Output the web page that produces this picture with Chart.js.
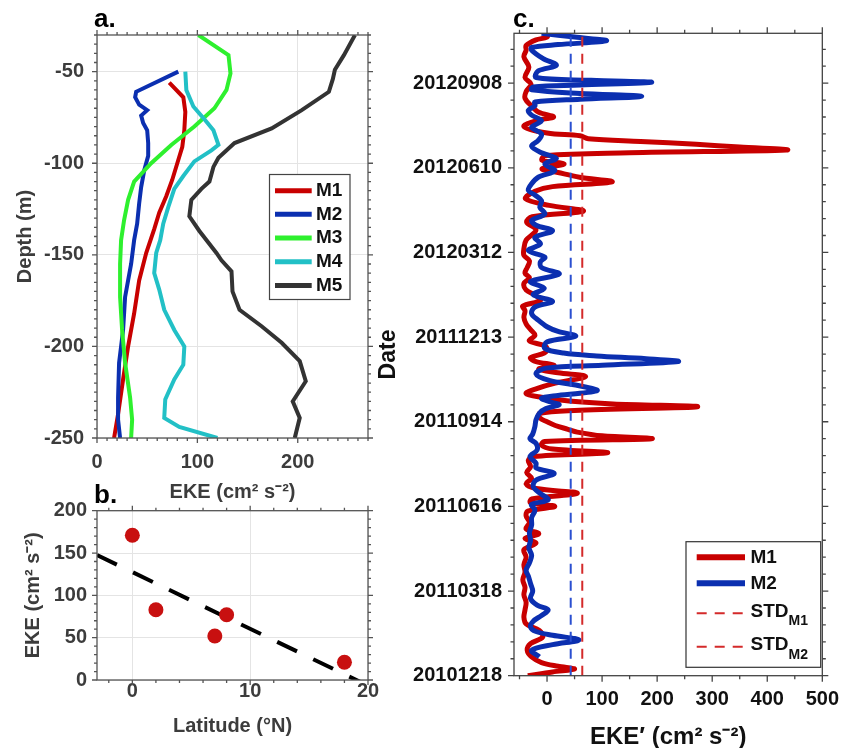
<!DOCTYPE html>
<html><head><meta charset="utf-8">
<script src="https://cdn.jsdelivr.net/npm/chart.js@4.4.0/dist/chart.umd.min.js"></script>
<style>
html,body{margin:0;padding:0;background:#fff;overflow:hidden;width:851px;height:748px;}
canvas{position:absolute;}
#ca{left:0;top:0;} #cb{left:0;top:480px;} #cc{left:370px;top:0;}
</style></head><body>
<canvas id="ca" width="380" height="510"></canvas>
<canvas id="cb" width="380" height="268"></canvas>
<canvas id="cc" width="481" height="760"></canvas>
<script>
// ---------- Panel a: EKE profiles (depth in m, EKE in cm^2 s^-2) ----------
const depthM1 = [-56,-64,-72,-82,-91,-100,-109,-118,-127,-136,-149,-164,-182,-200,-218,-237,-250];
const ekeM1   = [72,86,88,87,85,80,75,69,62,57,49,42,37,31,26,21,17];
const depthM2 = [-50,-61,-64,-68,-71,-74,-78,-82,-89,-96,-104,-113,-122,-133,-142,-155,-164,-173,-191,-209,-228,-240,-250];
const ekeM2   = [81,39,38,42,50,44,46,50,51,51,47,44,42,40,37,34,31,28,26,22,21,21,23];
const depthM3 = [-30,-41,-51,-60,-70,-80,-90,-100,-110,-120,-131,-142,-155,-173,-191,-209,-228,-240,-250];
const ekeM3   = [101,131,133,129,117,97,74,54,37,31,27,24,23,23,25,28,33,35,34];
const depthM4 = [-50,-60,-69,-76,-82,-90,-93,-99,-107,-114,-124,-133,-142,-149,-160,-169,-180,-191,-200,-210,-218,-229,-239,-244,-250];
const ekeM4   = [88,89,96,107,116,121,114,97,86,77,71,66,63,59,57,62,67,77,87,86,77,68,67,82,120];
const depthM5 = [-30,-41,-49,-54,-61,-71,-81,-89,-97,-102,-110,-114,-120,-129,-137,-149,-153,-159,-170,-180,-189,-198,-208,-219,-230,-239,-250];
const ekeM5   = [257,246,237,235,231,204,174,137,121,116,112,104,94,92,102,119,124,134,135,142,164,184,202,208,195,202,197];
const mooringNames = ['M1','M2','M3','M4','M5'];
const xTicksA = [0,100,200];
const yTicksA = [-250,-200,-150,-100,-50];

// ---------- Panel b: mean EKE vs latitude ----------
const latitude = [0,2,7,8,18];
const meanEke  = [171,83,52,77,21];
const fitLat   = [-3,19.5];
const fitEke   = [147.6,-3.3];
const xTicksB = [0,10,20];
const yTicksB = [0,50,100,150,200];

// ---------- Panel c: EKE' time series (day index since 20101218) ----------
const dayM1 = [0,4,7,10,14,20,27,34,41,48,55,62,70,78,86,94,102,110,118,126,134,141,146,151,156,163,170,175,180,184,188,194,199,204,210,216,222,229,233,237,241,245,249,252,255,259,262,266,270,274,279,282,286,289,292,296,300,305,311,318,322,326,330,334,338,343,347,351,356,362,368,374,381,388,393,399,404,410,417,423,428,434,441,447,454,463,474,482,488,494,500,507,515,520,525,530,535,539,544,548,553,556,559,562,565,568,571,574,577,584,591,594,599,605,614,621,629,636,647,658,665,670,676,679,683];
const ekeC1 = [-35,10,50,20,-10,-28,-36,-30,-8,-14,-38,-42,-40,-38,-42,-40,-44,-40,-42,-38,-42,-20,-40,-15,-38,-32,-38,-35,14,-30,-28,55,-20,-38,-28,-37,-30,-34,-25,110,10,-10,-5,190,100,55,38,15,0,-13,-13,50,273,120,40,-10,-38,-20,15,70,20,-15,13,-20,-30,-5,0,-5,-32,-22,-30,-38,-42,-40,-44,-12,-20,-38,-42,-32,-40,-36,-32,-42,-42,-38,-20,-37,-27,66,4,-39,-22,10,118,59,20,-9,31,-9,-3,150,435,350,271,170,75,60,0,-42,-14,12,-15,-27,-40,-38,-29,-40,-33,-42,-38,-38,-20,0,2];
const dayM2 = [20,27,33,38,43,47,52,58,64,70,75,82,90,98,106,112,120,128,136,144,152,160,168,176,182,187,194,201,208,215,221,226,233,240,247,252,257,265,272,279,284,288,291,295,298,303,309,314,321,327,330,334,337,340,343,348,355,361,366,371,378,385,392,398,405,412,419,427,434,440,445,452,459,466,473,479,484,491,498,505,511,516,523,530,537,544,550,556,563,569,576,583,590,596,601,606,610,613,616,619,623,626,628,631,633,636,643,649,656,665,668,671,675,679,683];
const ekeC2 = [-14,-28,10,58,10,-20,-30,-25,-10,2,-18,-30,-26,-30,-34,-38,-32,-28,-33,-30,-32,-28,-28,-22,-28,2,-13,-25,-20,13,-20,-20,-31,-18,-20,-31,-26,-22,-20,-14,-2,22,7,-10,20,91,52,4,-20,-2,100,238,180,90,30,-4,0,52,20,0,-16,-28,-22,10,-25,-5,-30,22,-10,-12,-4,-34,-12,-22,10,-20,-28,-4,-13,-10,-22,-34,-28,-16,14,-4,17,-10,-28,-16,-10,-28,-10,-28,-34,-22,-22,60,172,60,-28,-25,60,190,80,-20,-16,17,-7,-28,-28,20,108,50,-10];
const stdM1 = 64;
const stdM2 = 43;
const daySpan = [0,683];
const dateTickDays = [0,90,180,270,360,450,540,630];
const dateTickLabels = ['20101218','20110318','20110616','20110914','20111213','20120312','20120610','20120908'];
const xTicksC = [0,100,200,300,400,500];

// ---------- styling ----------
const FONT = "'Liberation Sans', Arial, Helvetica, sans-serif";
const GRAY = '#3c3c3c';
const COL = {M1:'#c80000', M2:'#0b2fb0', M3:'#2ef02e', M4:'#22c0c6', M5:'#333333'};
Chart.defaults.font.family = FONT;

const pts = (xs, ys) => xs.map((v,i) => ({x:v, y:ys[i]}));
const bold = (s) => ({family: FONT, size: s, weight: 'bold'});

const boxTicks = {
  id: 'boxTicks',
  afterDraw(chart, args, o) {
    const {ctx, chartArea: a} = chart;
    const xs = chart.scales.x, ys = chart.scales.y;
    const steps = (s) => { const out = []; for (let i = 0; ; i++) { const v = s.from + i * s.step; if (v > s.to + 1e-9) break; out.push(v); } return out; };
    const isMajor = (v, m) => m.some(t => Math.abs(t - v) < 1e-6);
    ctx.save();
    ctx.strokeStyle = o.color; ctx.lineWidth = o.lineWidth;
    ctx.beginPath();
    steps(o.xMinor).forEach(v => {
      const p = xs.getPixelForValue(v);
      const len = isMajor(v, o.xMajor) ? o.major : o.minor;
      ctx.moveTo(p, a.bottom); ctx.lineTo(p, a.bottom + len);
      ctx.moveTo(p, a.top); ctx.lineTo(p, a.top - len);
    });
    steps(o.yMinor).forEach(v => {
      const p = ys.getPixelForValue(v);
      const len = isMajor(v, o.yMajor) ? o.major : o.minor;
      ctx.moveTo(a.left, p); ctx.lineTo(a.left - len, p);
      ctx.moveTo(a.right, p); ctx.lineTo(a.right + len, p);
    });
    ctx.stroke();
    ctx.strokeRect(a.left, a.top, a.right - a.left, a.bottom - a.top);
    ctx.restore();
  }
};

const panelLegend = {
  id: 'panelLegend',
  afterDraw(chart, args, o) {
    if (!o.box) return;
    const ctx = chart.ctx;
    ctx.save();
    ctx.fillStyle = '#ffffff';
    ctx.fillRect(o.box.x, o.box.y, o.box.w, o.box.h);
    ctx.strokeStyle = o.borderColor; ctx.lineWidth = 1.2;
    ctx.strokeRect(o.box.x, o.box.y, o.box.w, o.box.h);
    chart.data.datasets.forEach(ds => {
      if (ds.legendRow === undefined) return;
      const y = o.rowY[ds.legendRow];
      ctx.beginPath();
      ctx.strokeStyle = ds.legendColor || ds.borderColor;
      ctx.lineWidth = ds.legendWidth || ds.borderWidth;
      ctx.setLineDash(ds.legendDash || []);
      ctx.moveTo(o.x0, y); ctx.lineTo(o.x1, y); ctx.stroke();
      ctx.setLineDash([]);
      ctx.fillStyle = o.textColor; ctx.font = o.font;
      ctx.textBaseline = 'middle'; ctx.textAlign = 'left';
      const ty = y + (ds.labelSub ? o.mainDy : 0);
      ctx.fillText(ds.label, o.tx, ty);
      if (ds.labelSub) {
        const w = ctx.measureText(ds.label).width;
        ctx.font = o.subFont;
        ctx.fillText(ds.labelSub, o.tx + w, ty + o.subDy);
      }
    });
    ctx.restore();
  }
};

const panelLabel = {
  id: 'panelLabel',
  afterDraw(chart, args, o) {
    const ctx = chart.ctx;
    ctx.save();
    ctx.fillStyle = '#000'; ctx.font = `bold ${o.size}px ${FONT}`;
    ctx.textBaseline = 'alphabetic'; ctx.textAlign = 'left';
    ctx.fillText(o.text, o.x, o.y);
    ctx.restore();
  }
};

const fixedTicks = (arr) => (s) => { s.ticks = arr.map(v => ({value: v})); };

// ---------- Chart a ----------
const profDepth = [depthM1, depthM2, depthM3, depthM4, depthM5];
const profEke = [ekeM1, ekeM2, ekeM3, ekeM4, ekeM5];
new Chart(document.getElementById('ca'), {
  type: 'scatter',
  data: {
    datasets: mooringNames.map((n, i) => ({
      label: n, data: pts(profEke[i], profDepth[i]),
      showLine: true, borderColor: COL[n], backgroundColor: COL[n],
      borderWidth: 4, pointRadius: 0, tension: 0, order: 5 - i,
      legendRow: i, legendWidth: 5
    }))
  },
  options: {
    responsive: false, animation: false, devicePixelRatio: 1,
    layout: {padding: {left: 0, right: 12, top: 35, bottom: 4}},
    plugins: {
      legend: {display: false}, tooltip: {enabled: false},
      boxTicks: {color: '#555', lineWidth: 1.3, major: 5, minor: 3,
        xMinor: {from: 0, to: 270, step: 10}, xMajor: xTicksA,
        yMinor: {from: -250, to: -30, step: 5}, yMajor: yTicksA},
      panelLegend: {box: {x: 269.5, y: 174.5, w: 80.5, h: 125}, borderColor: '#444',
        rowY: [190.7, 214.3, 238, 261.8, 285.5], x0: 275, x1: 311.7, tx: 316,
        font: `bold 19px ${FONT}`, textColor: '#111'},
      panelLabel: {text: 'a.', x: 94, y: 27, size: 26}
    },
    scales: {
      x: {type: 'linear', min: 0, max: 270, afterBuildTicks: fixedTicks(xTicksA),
        afterFit: s => { s.height = 68; },
        grid: {color: '#e4e4e4', drawTicks: false}, border: {display: false},
        ticks: {font: bold(20), color: GRAY, padding: 12, maxRotation: 0},
        title: {display: true, text: 'EKE (cm² s⁻²)', font: bold(20), color: GRAY, padding: {top: 0, bottom: 2}}},
      y: {type: 'linear', min: -250, max: -30, afterBuildTicks: fixedTicks(yTicksA),
        afterFit: s => { s.width = 97; },
        grid: {color: '#e4e4e4', drawTicks: false}, border: {display: false},
        ticks: {font: bold(20), color: GRAY, padding: 13},
        title: {display: true, text: 'Depth (m)', font: bold(20), color: GRAY, padding: {top: 13, bottom: 0}}}
    }
  },
  plugins: [boxTicks, panelLegend, panelLabel]
});

// ---------- Chart b ----------
new Chart(document.getElementById('cb'), {
  type: 'scatter',
  data: {
    datasets: [
      {label: 'EKE', data: pts(latitude, meanEke), pointRadius: 7.5, pointBackgroundColor: '#c81010',
        pointBorderWidth: 0, showLine: false, order: 0},
      {label: 'fit', data: pts(fitLat, fitEke), showLine: true, borderColor: '#000', borderWidth: 4,
        borderDash: [22, 18], pointRadius: 0, clip: 0, order: 1}
    ]
  },
  options: {
    responsive: false, animation: false, devicePixelRatio: 1,
    layout: {padding: {left: 0, right: 12, top: 30.7, bottom: 0}},
    plugins: {
      legend: {display: false}, tooltip: {enabled: false},
      boxTicks: {color: '#555', lineWidth: 1.3, major: 5, minor: 3,
        xMinor: {from: -2, to: 20, step: 2}, xMajor: xTicksB,
        yMinor: {from: 0, to: 200, step: 10}, yMajor: yTicksB},
      panelLabel: {text: 'b.', x: 94, y: 23, size: 26}
    },
    scales: {
      x: {type: 'linear', min: -3, max: 20, afterBuildTicks: fixedTicks(xTicksB),
        afterFit: s => { s.height = 68; },
        grid: {color: '#e4e4e4', drawTicks: false}, border: {display: false},
        ticks: {font: bold(20), color: GRAY, padding: -1, maxRotation: 0},
        title: {display: true, text: 'Latitude (°N)', font: bold(20), color: GRAY, padding: {top: 0, bottom: 10}}},
      y: {type: 'linear', min: 0, max: 200, afterBuildTicks: fixedTicks(yTicksB),
        afterFit: s => { s.width = 97; },
        grid: {color: '#e4e4e4', drawTicks: false}, border: {display: false},
        ticks: {font: bold(20), color: GRAY, padding: 10},
        title: {display: true, text: 'EKE (cm² s⁻²)', font: bold(20), color: GRAY, padding: {top: 21, bottom: 0}}}
    }
  },
  plugins: [boxTicks, panelLabel]
});

// ---------- Chart c ----------
new Chart(document.getElementById('cc'), {
  type: 'scatter',
  data: {
    datasets: [
      {label: 'M1', data: pts(ekeC1, dayM1), showLine: true, borderColor: COL.M1, borderWidth: 5,
        pointRadius: 0, tension: 0.35, order: 2, legendRow: 0, legendWidth: 6},
      {label: 'M2', data: pts(ekeC2, dayM2), showLine: true, borderColor: COL.M2, borderWidth: 5,
        pointRadius: 0, tension: 0.35, order: 1, legendRow: 1, legendWidth: 6},
      {label: 'STD', labelSub: 'M1', data: pts([stdM1, stdM1], daySpan), showLine: true, borderColor: '#d42a2a',
        borderWidth: 2, borderDash: [10, 7], pointRadius: 0, order: 0, legendRow: 2, legendDash: [10, 8]},
      {label: 'STD', labelSub: 'M2', data: pts([stdM2, stdM2], daySpan), showLine: true, borderColor: '#2a4fd0',
        borderWidth: 2, borderDash: [10, 7], pointRadius: 0, order: 0, legendRow: 3, legendDash: [10, 8],
        legendColor: '#d42a2a'}
    ]
  },
  options: {
    responsive: false, animation: false, devicePixelRatio: 1,
    layout: {padding: {left: 0, right: 22, top: 33.3, bottom: 0}},
    plugins: {
      legend: {display: false}, tooltip: {enabled: false},
      boxTicks: {color: '#444', lineWidth: 1.3, major: 6, minor: 3.5,
        xMinor: {from: -50, to: 500, step: 50}, xMajor: xTicksC,
        yMinor: {from: 0, to: 683, step: 18}, yMajor: dateTickDays},
      panelLegend: {box: {x: 316, y: 541.7, w: 134.7, h: 125.6}, borderColor: '#333',
        rowY: [557.3, 583.3, 613.3, 646.7], x0: 326.7, x1: 375, tx: 380.5,
        font: `bold 19px ${FONT}`, subFont: `bold 14px ${FONT}`, mainDy: -2, subDy: 10, textColor: '#111'},
      panelLabel: {text: 'c.', x: 143, y: 27, size: 26}
    },
    scales: {
      x: {type: 'linear', min: -60, max: 500, afterBuildTicks: fixedTicks(xTicksC),
        afterFit: s => { s.height = 84.3; },
        grid: {display: false, drawTicks: false}, border: {display: false},
        ticks: {font: bold(20), color: '#111', padding: 12, maxRotation: 0},
        title: {display: true, text: 'EKE′ (cm² s⁻²)', font: bold(24), color: '#111', padding: {top: 0, bottom: 8.2}}},
      y: {type: 'linear', min: 0, max: 683, afterBuildTicks: fixedTicks(dateTickDays),
        afterFit: s => { s.width = 144; },
        grid: {display: false, drawTicks: false}, border: {display: false},
        ticks: {font: bold(20), color: '#111', padding: 12,
          callback: (v) => { const i = dateTickDays.indexOf(v); return i >= 0 ? dateTickLabels[i] : ''; }},
        title: {display: true, text: 'Date', font: bold(23), color: '#111', padding: {top: 5.2, bottom: 0}}}
    }
  },
  plugins: [boxTicks, panelLegend, panelLabel]
});
</script>
</body></html>
